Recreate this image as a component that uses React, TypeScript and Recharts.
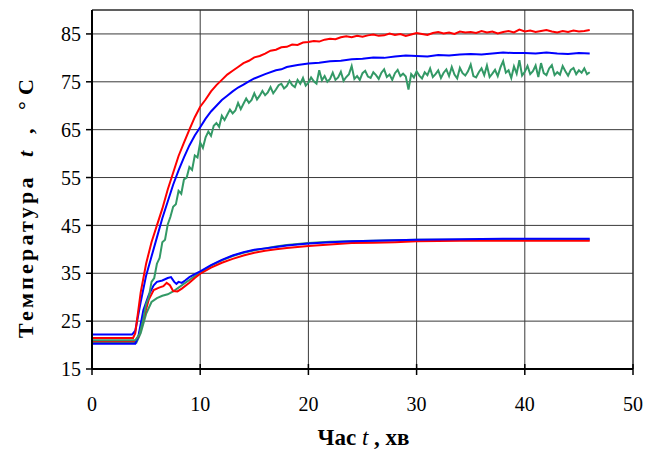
import React from "react";
import { LineChart, Line, XAxis, YAxis, CartesianGrid, ReferenceLine } from "recharts";

// [time (min), temperature (°C)]
const redUpper: number[][] = [[0,21.5],[3.8,21.5],[4.0,22.5],[4.5,31],[5,37],[5.5,41.5],[6,45],[6.5,48.5],[7,52.5],[7.5,56],[8,59.5],[8.5,62.3],[9,65],[9.5,67.6],[10,69.8],[10.5,71.3],[11,73],[11.5,74.3],[12,75.4],[12.5,76.5],[13,77.3],[13.5,78.1],[14,78.9],[14.5,79.4],[15,80.1],[15.5,80.4],[16,80.9],[16.5,81.5],[17,81.7],[17.5,82.2],[18,82.3],[18.5,82.8],[19,82.7],[19.5,83.2],[20,83.3],[20.5,83.5],[21,83.4],[21.5,83.8],[22,84.0],[22.5,83.9],[23,84.3],[23.5,84.5],[24,84.3],[24.5,84.6],[25,84.4],[25.5,84.7],[26,84.9],[26.5,84.6],[27,84.7],[27.5,85.1],[28,84.8],[28.5,85.0],[29,84.6],[29.5,84.9],[30,85.2],[30.5,85.0],[31,84.8],[31.5,85.2],[32,85.4],[32.5,85.1],[33,85.3],[33.5,85.0],[34,85.5],[34.5,85.3],[35,85.4],[35.5,85.2],[36,85.6],[36.5,85.3],[37,85.5],[37.5,85.1],[38,85.4],[38.5,85.6],[39,85.3],[39.5,85.9],[40,85.5],[40.5,85.7],[41,85.4],[41.5,85.6],[42,85.8],[42.5,85.5],[43,85.3],[43.5,85.6],[44,85.4],[44.5,85.7],[45,85.5],[45.5,85.6],[46,85.8]];

const blueUpper: number[][] = [[0,22.2],[3.7,22.2],[4.0,23],[4.5,29],[5,34.5],[5.5,38.5],[6,42.5],[6.5,46.5],[7,50],[7.5,53.5],[8,56.5],[8.5,59.2],[9,61.7],[9.5,63.8],[10,65.5],[10.5,67.3],[11,68.8],[11.5,70],[12,71.2],[12.5,72.1],[13,73],[13.5,73.8],[14,74.4],[14.5,75.1],[15,75.7],[16,76.6],[17,77.4],[17.5,77.6],[18,78.1],[19,78.5],[20,78.8],[21,79.0],[22,79.3],[23,79.4],[24,79.7],[25,79.8],[26,80.1],[27,80.0],[28,80.3],[29,80.5],[30,80.4],[31,80.3],[32,80.6],[33,80.5],[34,80.7],[35,80.8],[36,80.7],[37,80.9],[38,81.1],[39,81.0],[40,81.0],[41,80.9],[42,81.1],[43,80.9],[44,80.8],[45,81.0],[46,80.9]];

const greenUpper: number[][] = [[0,21.0],[4.0,21.0],[4.4,22.3],[4.75,25.5],[5.0,28.5],[5.25,30.0],[5.5,33.2],[5.75,34.0],[6.0,37.0],[6.25,38.2],[6.5,41.5],[6.75,42.0],[7.0,45.2],[7.25,46.8],[7.5,48.9],[7.75,49.4],[8.0,52.2],[8.25,51.6],[8.5,54.6],[8.75,55.0],[9.0,57.2],[9.25,56.6],[9.5,59.6],[9.75,59.2],[10.0,62.3],[10.25,61.2],[10.5,63.4],[10.75,64.6],[11.0,63.7],[11.25,65.8],[11.5,66.4],[11.75,65.6],[12.0,67.9],[12.25,67.0],[12.5,68.1],[12.75,69.2],[13.0,68.4],[13.25,69.0],[13.5,70.6],[13.75,69.3],[14.0,70.4],[14.25,71.5],[14.5,70.6],[14.75,71.2],[15.0,72.6],[15.25,71.3],[15.5,72.1],[15.75,73.1],[16.0,72.2],[16.25,72.8],[16.5,73.9],[16.75,72.6],[17.0,73.4],[17.25,74.3],[17.5,74.6],[17.75,73.6],[18,74.1],[18.25,75.2],[18.5,74.3],[18.75,73.9],[19,75.4],[19.25,74.6],[19.5,75.8],[19.75,74.2],[20,74.8],[20.25,75.9],[20.5,75.1],[20.75,74.6],[21,77.4],[21.25,75.3],[21.5,76.2],[21.75,75.0],[22,75.6],[22.25,76.9],[22.5,75.4],[22.75,75.9],[23,77.1],[23.25,75.2],[23.5,76.0],[23.75,76.6],[24,78.3],[24.25,75.6],[24.5,76.2],[24.75,75.4],[25,76.8],[25.25,77.3],[25.5,76.1],[25.75,75.8],[26,77.0],[26.25,76.4],[26.5,75.6],[26.75,76.9],[27,77.6],[27.25,76.0],[27.5,76.5],[27.75,75.4],[28,76.8],[28.25,77.5],[28.5,76.2],[28.75,76.7],[29,76.1],[29.25,73.4],[29.5,76.6],[29.75,75.9],[30,77.2],[30.25,76.3],[30.5,75.7],[30.75,77.0],[31,76.4],[31.25,77.8],[31.5,76.0],[31.75,76.6],[32,77.4],[32.25,75.8],[32.5,76.9],[32.75,77.6],[33,76.2],[33.25,78.1],[33.5,76.5],[33.75,75.7],[34,77.9],[34.25,76.8],[34.5,76.3],[34.75,77.2],[35,78.6],[35.25,76.2],[35.5,75.9],[35.75,77.0],[36,77.8],[36.25,76.4],[36.5,78.4],[36.75,76.0],[37,76.7],[37.25,77.5],[37.5,76.2],[37.75,78.0],[38,79.3],[38.25,76.9],[38.5,77.4],[38.75,75.8],[39,78.2],[39.25,76.7],[39.5,79.5],[39.75,76.3],[40,77.1],[40.25,78.3],[40.5,76.6],[40.75,77.2],[41,78.4],[41.25,76.0],[41.5,78.9],[41.75,76.8],[42,76.4],[42.25,77.8],[42.5,78.5],[42.75,76.4],[43,77.0],[43.25,76.5],[43.5,78.3],[43.75,77.2],[44,76.3],[44.25,77.5],[44.5,77.9],[44.75,76.6],[45,77.4],[45.25,76.9],[45.5,77.8],[45.75,76.6],[46,77.0]];

const redLower: number[][] = [[0,20.8],[4.0,20.8],[4.3,21.8],[4.75,25.5],[5.25,29.5],[5.7,31.5],[6.2,32.0],[6.6,32.3],[6.9,33.0],[7.2,32.5],[7.5,31.3],[7.9,31.2],[8.3,31.8],[9,33.0],[9.5,34.0],[10,34.9],[11,36.2],[12,37.2],[13,38.0],[14,38.7],[15,39.3],[16,39.7],[17,40.0],[18,40.3],[20,40.7],[22,41.0],[24,41.3],[26,41.4],[28,41.5],[30,41.7],[34,41.8],[38,41.8],[42,41.8],[46,41.8]];

const blueLower: number[][] = [[0,20.3],[4.0,20.3],[4.3,22],[4.75,27.3],[5.25,30.5],[5.7,32.5],[6.0,33.2],[6.5,33.5],[7.0,34.0],[7.3,34.2],[7.6,33.2],[7.8,32.8],[8.0,33.2],[8.3,33.0],[8.6,33.5],[9.0,34.2],[9.5,34.8],[10,35.4],[11,36.7],[12,37.8],[13,38.7],[14,39.4],[15,39.9],[16,40.2],[17,40.5],[18,40.8],[20,41.2],[22,41.5],[24,41.7],[26,41.8],[28,41.9],[30,42.0],[34,42.1],[38,42.2],[42,42.2],[46,42.2]];

const greenLower: number[][] = [[0,20.5],[4.1,20.5],[4.5,22.5],[5.0,26.5],[5.5,29.0],[6.0,29.8],[6.5,30.3],[7.0,30.6],[7.5,31.2],[8.0,32.0],[8.5,32.8],[9,33.6],[9.5,34.4],[10,35.2],[11,36.6],[12,37.7],[13,38.6],[14,39.3],[15,39.8],[16,40.2],[17,40.6],[18,40.9],[20,41.3],[22,41.6],[24,41.7],[26,41.8],[28,41.9],[30,42.0],[34,42.0],[38,42.1],[42,42.1],[46,42.0]];

const xTicks = [0, 10, 20, 30, 40, 50];
const yTicks = [15, 25, 35, 45, 55, 65, 75, 85];

const toRows = (pairs: number[][]) => pairs.map(([t, v]) => ({ t, v }));

const FONT = "'Liberation Serif', 'Times New Roman', serif";
const RED = "#ff0000";
const BLUE = "#0000ff";
const GREEN = "#339966";

const XTick = (props: any) => {
  const { x, y, payload } = props;
  return (
    <g>
      <line x1={x} x2={x} y1={y - 5} y2={y + 6} stroke="#000" strokeWidth={1.5} />
      <text x={x} y={y + 42} textAnchor="middle" fontFamily={FONT} fontSize={20} fill="#000">
        {payload.value}
      </text>
    </g>
  );
};

const XTitle = (props: any) => {
  const vb = props.viewBox;
  const cx = vb.x + vb.width / 2;
  return (
    <text x={cx + 1} y={445} textAnchor="middle" fontFamily={FONT} fontSize={23} fill="#000">
      <tspan fontWeight="bold">Час </tspan>
      <tspan fontStyle="italic">t</tspan>
      <tspan fontWeight="bold"> , хв</tspan>
    </text>
  );
};

const YTitle = () => {
  return (
    <text
      transform="translate(33,338) rotate(-90)"
      textAnchor="start"
      fontFamily={FONT}
      fontSize={22}
      fontWeight="bold"
      fill="#000"
    >
      <tspan x={0} letterSpacing={3.2}>Температура</tspan>
      <tspan x={181} fontStyle="italic">t</tspan>
      <tspan x={204}>,</tspan>
      <tspan x={228}>°</tspan>
      <tspan x={243}>C</tspan>
    </text>
  );
};

export default function App() {
  return (
    <div style={{ position: "absolute", left: 0, top: 0, width: 648, height: 452, background: "#fff" }}>
      <LineChart width={648} height={452} margin={{ top: 10, right: 15, bottom: 33, left: 32 }}>
        <CartesianGrid stroke="#3a3a3a" strokeWidth={1} horizontal vertical />
        <XAxis
          dataKey="t"
          type="number"
          domain={[0, 50]}
          ticks={xTicks}
          height={50}
          allowDuplicatedCategory={false}
          axisLine={{ stroke: "#000", strokeWidth: 2 }}
          tickLine={false}
          tickSize={0}
          tickMargin={0}
          tick={<XTick />}
          label={<XTitle />}
        />
        <YAxis
          type="number"
          domain={[15, 90]}
          ticks={yTicks}
          width={60}
          interval={0}
          axisLine={{ stroke: "#000", strokeWidth: 2 }}
          tickLine={{ stroke: "#000", strokeWidth: 1.5 }}
          tickSize={6}
          tickMargin={5}
          tick={{ fontFamily: FONT, fontSize: 20, fill: "#000" }}
          label={<YTitle />}
        />
        <ReferenceLine y={90} stroke="#222" strokeWidth={1} />
        <ReferenceLine x={50} stroke="#222" strokeWidth={1} />
        <Line data={toRows(greenLower)} dataKey="v" type="linear" stroke={GREEN} strokeWidth={2} dot={false} isAnimationActive={false} />
        <Line data={toRows(redLower)} dataKey="v" type="linear" stroke={RED} strokeWidth={2} dot={false} isAnimationActive={false} />
        <Line data={toRows(blueLower)} dataKey="v" type="linear" stroke={BLUE} strokeWidth={2} dot={false} isAnimationActive={false} />
        <Line data={toRows(greenUpper)} dataKey="v" type="linear" stroke={GREEN} strokeWidth={2} dot={false} isAnimationActive={false} />
        <Line data={toRows(blueUpper)} dataKey="v" type="linear" stroke={BLUE} strokeWidth={2} dot={false} isAnimationActive={false} />
        <Line data={toRows(redUpper)} dataKey="v" type="linear" stroke={RED} strokeWidth={2} dot={false} isAnimationActive={false} />
      </LineChart>
    </div>
  );
}
